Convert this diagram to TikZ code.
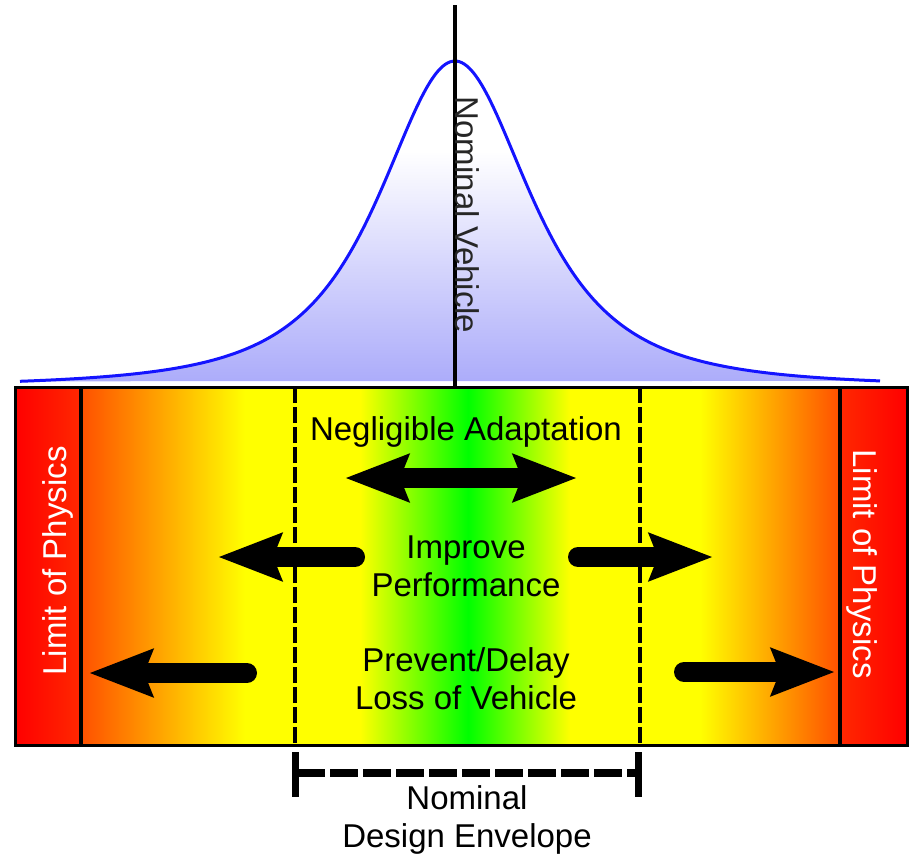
\documentclass[tikz,border=0pt]{standalone}
\usepackage{fontspec}
\setmainfont{Liberation Sans}
\usetikzlibrary{arrows.meta}
\definecolor{bellblue}{RGB}{172,172,250}
\definecolor{redA}{RGB}{255,0,0}
\definecolor{redB}{RGB}{255,40,0}
\definecolor{orangeA}{RGB}{255,80,0}
\definecolor{yel}{RGB}{255,255,0}
\definecolor{grn}{RGB}{0,255,0}
\definecolor{curveblue}{RGB}{20,20,255}
\pgfdeclareverticalshading{bellshade}{100bp}{color(0bp)=(bellblue); color(25bp)=(bellblue); color(61bp)=(white); color(100bp)=(white)}
\tikzset{
  lbl/.style={font=\fontsize{16.5}{19}\selectfont, align=center, inner sep=0pt},
  fatarrow/.style={line width=10pt, line cap=round, -{Stealth[length=31.5pt, width=23pt, inset=4pt]}},
  fatdouble/.style={line width=10pt, {Stealth[length=31.5pt, width=23pt, inset=4pt]}-{Stealth[length=31.5pt, width=23pt, inset=4pt]}},
  dashsep/.style={line width=2pt, dash pattern=on 8pt off 2pt},
  solidsep/.style={line width=2pt},
}
\begin{document}
\begin{tikzpicture}[x=0.5pt,y=-0.5pt]
\useasboundingbox (0,0) rectangle (909,858);
% bell curve fill
\shade[shading=bellshade] plot[domain=-435:425, samples=181, smooth] ({455+\x}, {387-326/(1+(\x/117)*(\x/117))^1.5}) -- cycle;
\draw[curveblue, line width=1.5pt] plot[domain=-435:425, samples=181, smooth] ({455+\x}, {387-326/(1+(\x/117)*(\x/117))^1.5});
% coloured band
\shade[left color=redA, right color=redB] (15,387) rectangle (81,745);
\shade[left color=orangeA, right color=yel] (81,387) rectangle (245,745);
\fill[yel] (245,387) rectangle (360,745);
\shade[left color=yel, right color=grn] (360,387) rectangle (468,745);
\shade[left color=grn, right color=yel] (468,387) rectangle (570,745);
\fill[yel] (570,387) rectangle (700,745);
\shade[left color=yel, right color=orangeA] (700,387) rectangle (840,745);
\shade[left color=redB, right color=redA] (840,387) rectangle (907,745);
% separators
\coordinate (sepLt) at (81,387); \coordinate (sepLb) at (81,745);
\coordinate (sepRt) at (840,387); \coordinate (sepRb) at (840,745);
\coordinate (dLt) at (295,387); \coordinate (dLb) at (295,745);
\coordinate (dRt) at (640,387); \coordinate (dRb) at (640,745);
\draw[solidsep] (sepLt) -- (sepLb);
\draw[solidsep] (sepRt) -- (sepRb);
\draw[dashsep] (dLt) -- (dLb);
\draw[dashsep] (dRt) -- (dRb);
\draw[line width=1.5pt] (15,387) rectangle (907,745);
% nominal vehicle line
\coordinate (nvTop) at (455,5); \coordinate (nvBot) at (455,387);
\draw[line width=2pt] (nvTop) -- (nvBot);
\node[lbl, rotate=-90, text=black!85] (nv) at (467,215) {Nominal Vehicle};
% limit of physics
\node[lbl, rotate=90, text=white] (lopL) at (58,561) {Limit of Physics};
\node[lbl, rotate=-90, text=white] (lopR) at (862,564) {Limit of Physics};
% texts
\node[lbl] (neg) at (466,432) {Negligible Adaptation};
\node[lbl] (imp) at (466,566) {Improve\\Performance};
\node[lbl] (prev) at (466,679) {Prevent/Delay\\Loss of Vehicle};
\node[lbl] (nde) at (467,820) {Nominal\\Design Envelope};
% arrows
\coordinate (negL) at (345,478); \coordinate (negR) at (577,478);
\draw[fatdouble] (negL) -- (negR);
\coordinate (impLs) at (355,557); \coordinate (impLe) at (218,557);
\draw[fatarrow] (impLs) -- (impLe);
\coordinate (impRs) at (578,557); \coordinate (impRe) at (713,557);
\draw[fatarrow] (impRs) -- (impRe);
\coordinate (prvLs) at (247,673); \coordinate (prvLe) at (89,673);
\draw[fatarrow] (prvLs) -- (prvLe);
\coordinate (prvRs) at (684,672); \coordinate (prvRe) at (835,672);
\draw[fatarrow] (prvRs) -- (prvRe);
% design envelope bracket
\coordinate (bL1) at (295,752); \coordinate (bL2) at (295,797);
\coordinate (bR1) at (638,752); \coordinate (bR2) at (638,797);
\coordinate (bLm) at (297,773); \coordinate (bRm) at (636,773);
\draw[line width=3.5pt] (bL1) -- (bL2);
\draw[line width=3.5pt] (bR1) -- (bR2);
\draw[line width=4pt, dash pattern=on 14pt off 2.5pt] (bLm) -- (bRm);
\end{tikzpicture}
\end{document}
